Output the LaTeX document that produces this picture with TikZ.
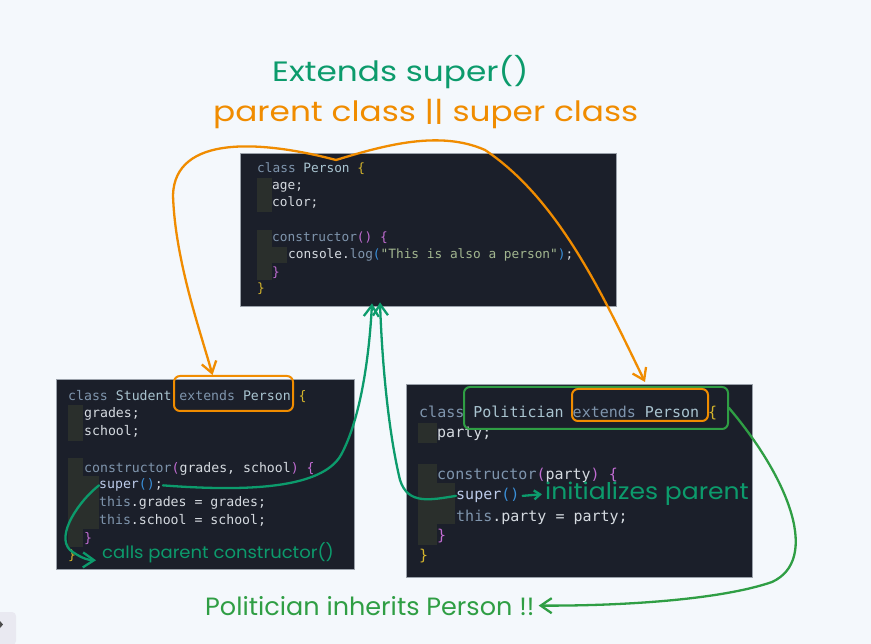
\documentclass[tikz,border=0pt]{standalone}
\usepackage{fontspec}
\usepackage{xcolor}
\usepackage{graphicx}
\usepackage{tikz}
\usetikzlibrary{arrows.meta, positioning, calc}
\newfontfamily\codefont{DejaVu Sans Mono}
\newfontfamily\handfont{Poppins}
\definecolor{pagebg}{HTML}{F4F8FC}
\definecolor{codebg}{HTML}{1B1F2A}
\definecolor{codeframe}{HTML}{9AA1AA}
\definecolor{guide}{HTML}{2A2F2C}
\definecolor{kw}{HTML}{7F95AD}
\definecolor{cls}{HTML}{A9C4D0}
\definecolor{ident}{HTML}{D5DAE0}
\definecolor{paren}{HTML}{C16CD2}
\definecolor{brace}{HTML}{D4B42C}
\definecolor{callp}{HTML}{3A8FD9}
\definecolor{strg}{HTML}{A2B68F}
\definecolor{fn}{HTML}{BCCBEA}
\definecolor{handorange}{HTML}{F08C00}
\definecolor{handteal}{HTML}{0C9B6C}
\definecolor{handgreen}{HTML}{2F9E44}
\definecolor{uigray}{HTML}{E9E9F1}
\tikzset{
	codebox/.style={draw=codeframe, line width=0.8pt, fill=codebg, inner sep=0pt},
	codeline/.style={anchor=base west, inner sep=0pt, text=ident, font=\codefont\fontsize{12.8}{17}\selectfont},
	midcode/.style={codeline, font=\codefont\fontsize{13.2}{17}\selectfont},
	bigcode/.style={codeline, font=\codefont\fontsize{15}{20}\selectfont},
	hand/.style={anchor=base west, inner sep=0pt, font=\handfont\fontsize{#1}{#1}\selectfont},
	markbox/.style={draw=#1, line width=2pt, rounded corners=6pt, inner sep=0pt},
	handarr/.style={draw=#1, line width=2.3pt, line cap=round, -{Straight Barb[length=11pt,width=15pt]}},
}

\begin{document}
\begin{tikzpicture}[x=1pt, y=-1pt]
	\fill[pagebg] (0,0) rectangle (871,644);
	\useasboundingbox (0,0) rectangle (871,644);
	% code boxes
	\node[codebox, minimum width=376pt, minimum height=153pt] (person) at (428,229.5) {};
	\node[codebox, minimum width=298pt, minimum height=190pt] (student) at (205.5,474) {};
	\node[codebox, minimum width=346pt, minimum height=193pt] (politician) at (579.5,480.5) {};
	% indent guides
	\fill[guide] (257,178) rectangle (272,212);
	\fill[guide] (257,230) rectangle (272,280);
	\fill[guide] (272,247) rectangle (287,263);
	\fill[guide] (68,405) rectangle (83,441);
	\fill[guide] (68,458) rectangle (83,547);
	\fill[guide] (83,476) rectangle (99,529);
	\fill[guide] (418,423) rectangle (437,443);
	\fill[guide] (418,464) rectangle (437,545);
	\fill[guide] (437,483) rectangle (455,524);
	% Person
	\node[codeline] (p1) at (257,173) {\textcolor{kw}{class} \textcolor{cls}{Person} \textcolor{brace}{\{}};
	\node[codeline] (p2) at (272,190) {age;};
	\node[codeline] (p3) at (272,207) {color;};
	\node[codeline] (p4) at (272,242) {\textcolor{kw}{constructor}\textcolor{paren}{()} \textcolor{paren}{\{}};
	\node[codeline] (p5) at (288,259) {console.\textcolor{kw}{log}\textcolor{callp}{(}\textcolor{strg}{"This is also a person"}\textcolor{callp}{)};};
	\node[codeline, text=paren] (p6) at (272,277) {\}};
	\node[codeline, text=brace] (p7) at (257,293) {\}};
	% Student
	\node[midcode] (s1) at (68,401) {\textcolor{kw}{class} \textcolor{cls}{Student} \textcolor{kw}{extends} \textcolor{cls}{Person} \textcolor{brace}{\{}};
	\node[midcode] (s2) at (84,418) {grades;};
	\node[midcode] (s3) at (84,436) {school;};
	\node[midcode] (s4) at (84,472) {\textcolor{kw}{constructor}\textcolor{paren}{(}grades, school\textcolor{paren}{)} \textcolor{paren}{\{}};
	\node[midcode] (s5) at (99,489) {\textcolor{fn}{super}\textcolor{callp}{()};};
	\node[midcode] (s6) at (99,507) {\textcolor{kw}{this}.grades = grades;};
	\node[midcode] (s7) at (99,525) {\textcolor{kw}{this}.school = school;};
	\node[midcode, text=paren] (s8) at (84,542) {\}};
	\node[midcode, text=brace] (s9) at (68,559) {\}};
	% Politician
	\node[bigcode] (q1) at (419,418) {\textcolor{kw}{class} \textcolor{cls}{Politician} \textcolor{kw}{extends} \textcolor{cls}{Person} \textcolor{brace}{\{}};
	\node[bigcode] (q2) at (437,438) {party;};
	\node[bigcode] (q3) at (437,479) {\textcolor{kw}{constructor}\textcolor{paren}{(}party\textcolor{paren}{)} \textcolor{paren}{\{}};
	\node[bigcode] (q4) at (456,500) {\textcolor{fn}{super}\textcolor{callp}{()}};
	\node[bigcode] (q5) at (456,521) {\textcolor{kw}{this}.party = party;};
	\node[bigcode, text=paren] (q6) at (437,540) {\}};
	\node[bigcode, text=brace] (q7) at (419,560) {\}};
	% hand notes
	\node[hand=28, text=handteal] (extendstext) at (272,82) {\scalebox{1.17}[1]{Extends super()}};
	\node[hand=28, text=handorange] (parenttext) at (213,122) {\scalebox{1.17}[1]{parent class || super class}};
	\node[hand=17, text=handteal] (callstext) at (102,558) {\scalebox{1.06}[1]{calls parent constructor()}};
	\node[hand=23, text=handteal] (inittext) at (545,500) {\scalebox{1.09}[1]{initializes parent}};
	\node[hand=25, text=handgreen] (inherittext) at (205,615) {\scalebox{1.02}[1]{Politician inherits Person !!}};
	% marks
	\node[markbox=handorange, minimum width=119pt, minimum height=35pt] (stuext) at (233.5,393.5) {};
	\node[markbox=handgreen, minimum width=264pt, minimum height=42pt] (polhead) at (596,408) {};
	\node[markbox=handorange, minimum width=136pt, minimum height=32pt] (polext) at (640,405) {};
	\coordinate (parenttop) at (336,160);
	% arrows
	\draw[handarr=handorange] (parenttop) .. controls (260,140) and (175,135) .. (173,195)
		.. controls (175,260) and (200,330) .. ([xshift=-21pt]stuext.north);
	\draw[handarr=handorange] (parenttop) .. controls (385,145) and (440,130) .. (485,150)
		.. controls (560,200) and (605,300) .. ([xshift=5pt,yshift=6pt]polext.north);
	\draw[handarr=handteal] (s5.east) .. controls (250,492) and (322,488) .. (341,455)
		.. controls (360,420) and (369,360) .. ([xshift=-56pt,yshift=3pt]person.south);
	\draw[handarr=handteal] (s5.west) .. controls (80,500) and (55,535) .. (70,550)
		.. controls (78,556) and (86,560) .. ([xshift=-6pt,yshift=-8pt]callstext.west);
	\draw[handarr=handteal] (q4.west) .. controls (430,500) and (408,505) .. (400,480)
		.. controls (388,430) and (382,360) .. ([xshift=-48pt,yshift=4pt]person.south);
	\draw[handarr=handteal, -{Straight Barb[length=6pt,width=9pt]}] ([xshift=3pt]q4.east) -- ([xshift=-3pt]inittext.west);
	\draw[handarr=handgreen] (polhead.east) .. controls (790,480) and (820,560) .. (772,582)
		.. controls (720,600) and (620,606) .. ([xshift=4pt]inherittext.east);
	% corner widget
	\fill[uigray, rounded corners=4pt] (-6,612) rectangle (16,645);
	\fill[black!70] (0,621) -- (3,624.5) -- (0,628) -- cycle;
\end{tikzpicture}
\end{document}
